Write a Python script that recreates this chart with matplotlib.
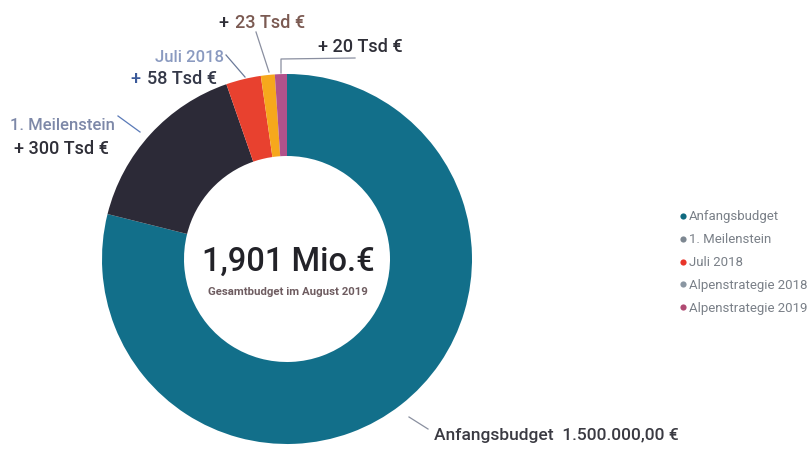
import matplotlib
matplotlib.use("Agg")
import matplotlib.pyplot as plt

categories = ["Anfangsbudget", "1. Meilenstein", "Juli 2018", "Alpenstrategie 2018", "Alpenstrategie 2019"]
values = [1500000, 300000, 58000, 23000, 20000]
slice_colors = ["#126f8a", "#2c2a37", "#e8412f", "#f6a81c", "#b2528b"]
legend_colors = ["#0f6a80", "#7d8791", "#e8352a", "#8a96a2", "#b04a72"]

total_label = "1,901 Mio.€"
sub_label = "Gesamtbudget im August 2019"

W, H = 812, 452
fig = plt.figure(figsize=(W / 100, H / 100), dpi=100)
ax = fig.add_axes([0, 0, 1, 1])

cx, cy, r = 287, H - 260, 185
ax.pie(values, colors=slice_colors, startangle=90, counterclock=False,
       center=(cx, cy), radius=r, wedgeprops=dict(width=82, linewidth=0))
ax.set_xlim(0, W)
ax.set_ylim(0, H)
ax.set_aspect("equal")
ax.axis("off")

font = "Roboto"
dark = "#2f2f38"
wt = "medium"


def y(v):
    return H - v


# centre text
ax.text(cx + 1, y(262), total_label, ha="center", va="center", fontsize=23.5,
        family=font, color="#222228", fontweight=wt)
ax.text(cx + 1, y(292), sub_label, ha="center", va="center", fontsize=8.2,
        family=font, color="#6e5c60", fontweight="bold")

# annotations
ax.text(10, y(125), "1. Meilenstein", ha="left", va="center", fontsize=12,
        family=font, color="#7d88a8", fontweight=wt)
ax.plot([118, 140], [y(117), y(133)], color="#5a7ab8", lw=0.9)
ax.text(14, y(149), "+ 300 Tsd €", ha="left", va="center", fontsize=13,
        family=font, color=dark, fontweight=wt)

ax.text(155, y(58), "Juli 2018", ha="left", va="center", fontsize=12,
        family=font, color="#8a9ac0", fontweight=wt)
ax.plot([226, 245], [y(56), y(78)], color="#6b7a99", lw=0.9)
ax.text(130, y(79), "+", ha="left", va="center", fontsize=13,
        family=font, color="#3b5a9a", fontweight=wt)
ax.text(147, y(79), "58 Tsd €", ha="left", va="center", fontsize=13,
        family=font, color="#343848", fontweight=wt)

ax.text(218, y(23), "+", ha="left", va="center", fontsize=13,
        family=font, color=dark, fontweight=wt)
ax.text(235, y(23), "23 Tsd €", ha="left", va="center", fontsize=13,
        family=font, color="#7b5a52", fontweight=wt)
ax.plot([256, 269], [y(33), y(73)], color="#8a8fa0", lw=0.9)

ax.text(318, y(47), "+ 20 Tsd €", ha="left", va="center", fontsize=13,
        family=font, color=dark, fontweight=wt)
ax.plot([281, 281, 355], [y(74), y(60), y(59)], color="#8a8fa0", lw=0.9)

ax.plot([409, 428], [y(418), y(430)], color="#8a90a0", lw=0.9)
ax.text(434, y(436), "Anfangsbudget  1.500.000,00 €", ha="left", va="center",
        fontsize=12.5, family=font, color="#3a3a42", fontweight=wt)

# legend
for i, (lab, col) in enumerate(zip(categories, legend_colors)):
    yy = y(217 + i * 22.8)
    ax.scatter([683], [yy], s=20, color=col, linewidths=0)
    ax.text(689, yy, lab, ha="left", va="center", fontsize=9.5,
            family=font, color="#7a8088")

fig.savefig("out.png", dpi=100)
